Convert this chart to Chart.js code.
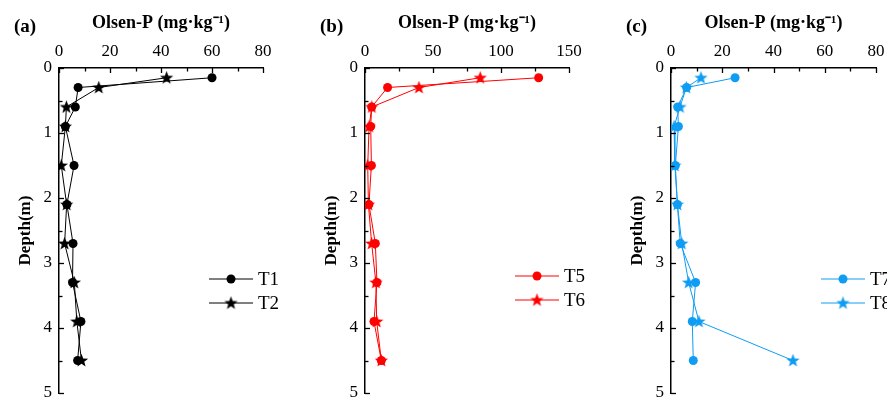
<!DOCTYPE html>
<html>
<head>
<meta charset="utf-8">
<script src="https://cdn.jsdelivr.net/npm/chart.js@4"></script>
<style>
  body { margin: 0; background: #fff; width: 887px; height: 401px; overflow: hidden; position: relative; }
  .panel { position: absolute; top: 0; height: 401px; }
</style>
</head>
<body>
<div class="panel" style="left:0;width:296px"><canvas id="ca"></canvas></div>
<div class="panel" style="left:296px;width:296px"><canvas id="cb"></canvas></div>
<div class="panel" style="left:592px;width:295px"><canvas id="cc"></canvas></div>
<script>
// depth of each sampling layer (m)
const depth = [0.15, 0.3, 0.6, 0.9, 1.5, 2.1, 2.7, 3.3, 3.9, 4.5];
// Olsen-P (mg/kg)
const T1 = [60, 7.5, 6.4, 2.5, 5.9, 3.1, 5.5, 5.3, 8.6, 7.3];
const T2 = [42.2, 15.6, 2.9, 2.5, 0.9, 3.0, 2.2, 6.0, 7.0, 8.8];
const T5 = [127.7, 16.6, 4.9, 4.2, 4.7, 2.9, 7.6, 8.8, 6.6, 12];
const T6 = [84.7, 39.7, 5, 3, 2, 2.5, 4.9, 8, 8.6, 12];
const T7 = [25, 6.1, 2.6, 2.9, 1.7, 2.5, 3.6, 9.6, 8.3, 8.7];
const T8 = [11.7, 6, 3.5, 1.2, 1.5, 2.5, 4.2, 6.9, 10.9, 47.6];

const depthTicks = [0, 1, 2, 3, 4, 5];
const xTitle = 'Olsen-P (mg·kg⁻¹)';
const yTitle = 'Depth(m)';
const FONT = "'Liberation Serif', 'Times New Roman', serif";

function starImg(color) {
  const c = document.createElement('canvas');
  c.width = 15; c.height = 15;
  const g = c.getContext('2d');
  g.fillStyle = color;
  g.beginPath();
  for (let i = 0; i < 10; i++) {
    const r = i % 2 == 0 ? 7 : 2.9;
    const a = -Math.PI / 2 + i * Math.PI / 5;
    g.lineTo(7.5 + r * Math.cos(a), 7.8 + r * Math.sin(a));
  }
  g.closePath();
  g.fill();
  return c;
}

function pts(vals) {
  return vals.map((v, i) => ({ x: v, y: depth[i] }));
}

// inward ticks, panel letter and the line+marker legend
const decor = {
  id: 'decor',
  afterDraw(chart, args, o) {
    const g = chart.ctx, a = chart.chartArea;
    const xs = chart.scales.x, ys = chart.scales.y;
    g.save();
    g.strokeStyle = '#000';
    g.lineWidth = 1.3;
    for (let v = 0; v <= xs.max + 1e-9; v += o.xMinor) {
      const px = Math.round(xs.getPixelForValue(v)) + 0.5;
      const len = Math.abs(v / o.xMajor - Math.round(v / o.xMajor)) < 1e-6 ? 5 : 3.5;
      g.beginPath(); g.moveTo(px, a.top); g.lineTo(px, a.top + len); g.stroke();
    }
    for (let v = 0; v <= 5; v += 0.5) {
      const py = Math.round(ys.getPixelForValue(v)) + 0.5;
      const len = v % 1 == 0 ? 5 : 3.5;
      g.beginPath(); g.moveTo(a.left, py); g.lineTo(a.left + len, py); g.stroke();
    }
    // panel letter
    g.fillStyle = '#000';
    g.font = 'bold 19px ' + FONT;
    g.textBaseline = 'middle';
    g.textAlign = 'left';
    g.fillText(o.letter, a.left - 45, 27);
    // legend
    g.font = '19px ' + FONT;
    chart.data.datasets.forEach((ds, i) => {
      const y = o.legendY[i];
      const x0 = a.left + 150;
      g.strokeStyle = ds.borderColor;
      g.lineWidth = 1;
      g.beginPath(); g.moveTo(x0, y); g.lineTo(x0 + 44, y); g.stroke();
      if (ds.pointStyle === 'circle') {
        g.fillStyle = ds.borderColor;
        g.beginPath(); g.arc(x0 + 22, y, 4.5, 0, Math.PI * 2); g.fill();
      } else {
        g.drawImage(ds.pointStyle, x0 + 22 - 7.5, y - 7.5);
      }
      g.fillStyle = '#000';
      g.fillText(ds.label, x0 + 49, y + 1);
    });
    g.restore();
  }
};

function makePanel(id, letter, xMax, xStep, xMinor, names, series, color, padL, padR, legendY) {
  const star = starImg(color);
  new Chart(document.getElementById(id), {
    type: 'scatter',
    data: {
      datasets: series.map((s, i) => ({
        label: names[i],
        data: pts(s),
        showLine: true,
        borderColor: color,
        backgroundColor: color,
        borderWidth: 1,
        pointStyle: i == 0 ? 'circle' : star,
        pointRadius: i == 0 ? 4.5 : 6,
        pointBorderWidth: 0
      }))
    },
    options: {
      responsive: true,
      maintainAspectRatio: false,
      animation: false,
      layout: { padding: { left: padL, right: padR, top: 0, bottom: 8 } },
      plugins: {
        legend: { display: false },
        tooltip: { enabled: false },
        decor: { letter: letter, xMajor: xStep, xMinor: xMinor, legendY: legendY }
      },
      scales: {
        x: {
          type: 'linear',
          position: 'top',
          min: 0, max: xMax,
          afterFit: s => { s.height = 68; s.paddingLeft = 0; s.paddingRight = 0; },
          ticks: { stepSize: xStep, color: '#000', padding: 6, font: { family: FONT, size: 17 } },
          grid: { display: false, drawTicks: false },
          border: { display: true, color: '#000', width: 1.5 },
          title: { display: true, text: xTitle, color: '#000', padding: { top: 13, bottom: 0 },
                   font: { family: FONT, size: 18, weight: 'bold' } }
        },
        y: {
          type: 'linear',
          reverse: true,
          min: 0, max: 5,
          afterFit: s => { s.width = 59; s.paddingTop = 0; s.paddingBottom = 0; },
          afterBuildTicks: s => { s.ticks = depthTicks.map(v => ({ value: v })); },
          ticks: { color: '#000', padding: 7, font: { family: FONT, size: 17 } },
          grid: { display: false, drawTicks: false },
          border: { display: true, color: '#000', width: 1.5 },
          title: { display: true, text: yTitle, color: '#000', padding: { top: 15, bottom: 0 },
                   font: { family: FONT, size: 17, weight: 'bold' } }
        }
      }
    },
    plugins: [decor]
  });
}

makePanel('ca', '(a)', 80, 20, 10, ['T1', 'T2'], [T1, T2], '#000000', 0, 33, [279, 303]);
makePanel('cb', '(b)', 150, 50, 25, ['T5', 'T6'], [T5, T6], '#ff0000', 10, 23, [276, 300]);
makePanel('cc', '(c)', 80, 20, 10, ['T7', 'T8'], [T7, T8], '#0f9cf3', 20, 11, [279, 303]);
</script>
</body>
</html>
